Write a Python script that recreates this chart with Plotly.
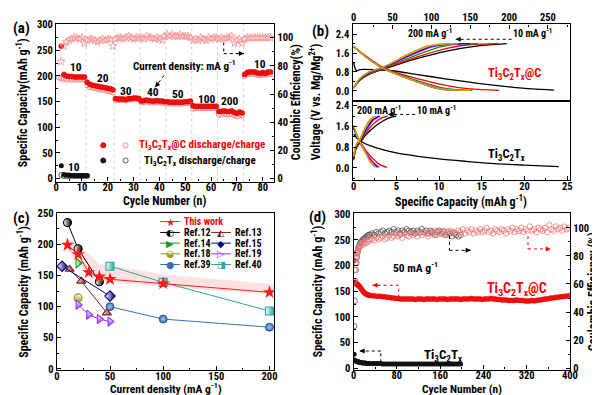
import plotly.graph_objects as go

W, H = 600, 395
FONT = "Roboto Condensed, Liberation Sans, Arial, sans-serif"


def fx(p):
    return p / W


def fy(p):
    return 1 - p / H


# ---------------------------------------------------------------- panel (a)
A_CYC_DIS = list(range(2, 84))
A_DIS = [258,
         203, 200, 199, 199, 198, 198, 198, 198, 198,
         188, 184, 182, 181, 180, 179, 178, 177, 176, 175, 173,
         156, 155, 155, 155, 154, 156, 156, 157, 157, 156,
         151, 152, 153, 152, 151, 151, 152, 151, 151, 150,
         150, 149, 149, 149, 149, 149, 149, 150, 150, 151,
         142, 141, 141, 141, 141, 141, 141, 141, 141, 141,
         131, 131, 132, 131, 131, 132, 129, 127, 130, 128,
         203, 207, 208, 208, 208, 206, 205, 207, 205, 208, 208]
A_CYC_CHG = list(range(1, 84))
A_CHG = [197, 195,
         194, 193, 193, 193, 193, 193, 193, 193, 193,
         182, 178, 177, 176, 175, 174, 173, 172, 171, 170, 168,
         153, 153, 153, 153, 152, 154, 154, 155, 155, 154,
         148, 149, 150, 149, 148, 148, 149, 148, 148, 147,
         146, 146, 146, 146, 146, 146, 146, 147, 147, 148,
         136, 137, 137, 137, 137, 137, 137, 137, 137, 138,
         124, 124, 126, 125, 125, 126, 123, 121, 125, 123,
         200, 203, 204, 204, 204, 202, 201, 203, 202, 204, 204]
A_CYC_CE = list(range(2, 84))
A_CE = [83,
        94, 97, 98, 99, 100, 100, 99, 100, 96,
        98, 99, 99, 98, 97, 98, 99, 98, 99, 99, 94,
        99, 100, 100, 99, 100, 101, 100, 99, 100, 100,
        100, 99, 101, 100, 100, 99, 100, 99, 98, 101,
        102, 101, 102, 101, 101, 102, 101, 101, 101, 100,
        98, 99, 98, 100, 99, 98, 100, 99, 100, 100,
        99, 100, 99, 100, 100, 101, 96, 98, 99, 96,
        99, 100, 100, 100, 100, 100, 100, 100, 100, 100, 100]
A_BLK_CYC = list(range(2, 13))
A_BLK_DIS = [25, 8, 7, 7, 6, 6, 6, 6, 6, 6, 6]
A_BLK_CHG = [7, 5, 5, 5, 5, 5, 5, 5, 5, 5, 5]
A_BOUNDS = [11.5, 22.5, 32.5, 42.5, 52.5, 62.5, 72.5]
A_RATES = ["10", "20", "30", "40", "50", "100", "200", "10"]

# ---------------------------------------------------------------- panel (b)
B_RATES = ["10", "20", "30", "40", "50", "100", "200"]
B_TOP_CHG = {
    "10": ([0, 8, 20, 40, 80, 120, 160, 197], [0.12, 0.45, 0.70, 0.93, 1.35, 1.68, 1.90, 2.0]),
    "20": ([0, 8, 20, 40, 80, 120, 150, 186], [0.12, 0.47, 0.72, 0.96, 1.42, 1.80, 1.96, 2.0]),
    "30": ([0, 8, 20, 40, 80, 110, 130, 160], [0.12, 0.48, 0.74, 0.98, 1.50, 1.85, 1.97, 2.0]),
    "40": ([0, 8, 20, 40, 75, 100, 120, 142], [0.12, 0.50, 0.76, 1.00, 1.52, 1.85, 1.97, 2.0]),
    "50": ([0, 8, 20, 40, 75, 100, 120, 150], [0.12, 0.50, 0.77, 1.01, 1.55, 1.88, 1.98, 2.0]),
    "100": ([0, 8, 20, 40, 70, 95, 115, 135], [0.12, 0.52, 0.80, 1.03, 1.52, 1.87, 1.98, 2.0]),
    "200": ([0, 8, 20, 40, 70, 95, 112, 130], [0.12, 0.52, 0.80, 1.04, 1.55, 1.90, 1.98, 2.0]),
}
B_TOP_DIS = {
    "10": ([0, 2, 4, 8, 30, 50, 80, 120, 160, 200, 230, 258],
           [1.2, 0.95, 0.85, 0.90, 0.89, 0.85, 0.70, 0.50, 0.32, 0.17, 0.08, 0.03]),
    "20": ([0, 15, 35, 60, 90, 120, 150, 187], [1.88, 1.50, 1.05, 0.72, 0.45, 0.22, 0.08, 0.02]),
    "30": ([0, 15, 35, 60, 90, 115, 135, 153], [1.88, 1.48, 1.02, 0.68, 0.35, 0.12, 0.04, 0.02]),
    "40": ([0, 15, 35, 60, 90, 110, 130, 150], [1.88, 1.47, 1.00, 0.66, 0.32, 0.12, 0.04, 0.02]),
    "50": ([0, 15, 35, 60, 90, 110, 125, 142], [1.87, 1.45, 1.00, 0.64, 0.28, 0.08, 0.03, 0.02]),
    "100": ([0, 15, 35, 60, 90, 110, 130, 150], [1.90, 1.47, 1.00, 0.65, 0.30, 0.10, 0.03, 0.02]),
    "200": ([0, 15, 35, 60, 90, 110, 128, 145], [1.90, 1.46, 0.99, 0.63, 0.28, 0.08, 0.03, 0.02]),
}
B_BOT_CHG = {
    "10": ([0, 0.3, 0.8, 1.5, 2.5, 3.5, 4.3, 5.0], [0.30, 0.75, 1.00, 1.30, 1.60, 1.82, 1.95, 2.0]),
    "20": ([0, 0.3, 0.8, 1.5, 2.5, 3.3, 4.0], [0.30, 0.80, 1.05, 1.38, 1.75, 1.93, 2.0]),
    "30": ([0, 0.3, 0.8, 1.5, 2.2, 2.9], [0.35, 0.82, 1.08, 1.45, 1.80, 2.0]),
    "40": ([0, 0.3, 0.8, 1.5, 2.3, 3.1], [0.35, 0.85, 1.10, 1.50, 1.85, 2.0]),
    "50": ([0, 0.3, 0.8, 1.5, 2.2, 3.0], [0.40, 0.85, 1.10, 1.50, 1.85, 2.0]),
    "100": ([0, 0.3, 0.8, 1.4, 2.0, 2.6], [0.40, 0.88, 1.12, 1.55, 1.85, 2.0]),
    "200": ([0, 0.3, 0.8, 1.4, 2.0, 2.5], [0.45, 0.90, 1.15, 1.60, 1.90, 2.0]),
}
B_BOT_DIS = {
    "10": ([0, 0.5, 1, 2, 3.5, 5, 7.5, 10, 13, 16, 20, 24],
           [1.30, 1.12, 1.00, 0.85, 0.70, 0.58, 0.45, 0.35, 0.26, 0.18, 0.11, 0.05]),
    "20": ([0, 0.4, 0.8, 1.5, 2.3, 3.0, 3.9], [1.60, 1.25, 1.00, 0.65, 0.35, 0.15, 0.02]),
    "30": ([0, 0.4, 0.8, 1.5, 2.2, 2.9], [1.60, 1.20, 0.95, 0.55, 0.22, 0.03]),
    "40": ([0, 0.4, 0.8, 1.5, 2.3, 3.0], [1.60, 1.22, 0.95, 0.58, 0.22, 0.03]),
    "50": ([0, 0.4, 0.8, 1.5, 2.2, 2.8], [1.55, 1.20, 0.95, 0.55, 0.20, 0.03]),
    "100": ([0, 0.4, 0.8, 1.4, 2.0, 2.6], [1.65, 1.25, 0.97, 0.60, 0.25, 0.03]),
    "200": ([0, 0.4, 0.8, 1.4, 1.9, 2.5], [1.65, 1.25, 0.96, 0.58, 0.25, 0.03]),
}
B_COLORS = {"10": "#000000", "20": "#FF0000", "30": "#00A000", "40": "#FF00FF",
            "50": "#0000FF", "100": "#FF8C00", "200": "#C8A000"}

# ---------------------------------------------------------------- panel (c)
C_THIS_X = [10, 20, 30, 40, 50, 100, 200]
C_THIS_Y = [199, 184, 155, 148, 144, 137, 123]
C_BAND_X = [8, 20, 30, 40, 50, 100, 205]
C_BAND_HI = [212, 200, 185, 168, 166, 152, 136]
C_BAND_LO = [193, 172, 150, 141, 140, 132, 119]
C_REF_NAMES = ["Ref.12", "Ref.13", "Ref.14", "Ref.15", "Ref.18", "Ref.19", "Ref.39", "Ref.40"]
C_REF_X = {"Ref.12": [10, 20, 40], "Ref.13": [12, 23, 47], "Ref.14": [20],
           "Ref.15": [5, 50], "Ref.18": [20], "Ref.19": [20, 30, 40, 50],
           "Ref.39": [50, 100, 200], "Ref.40": [50, 100, 200]}
C_REF_Y = {"Ref.12": [235, 193, 140], "Ref.13": [160, 141, 90], "Ref.14": [170],
           "Ref.15": [165, 117], "Ref.18": [114], "Ref.19": [103, 87, 80, 76],
           "Ref.39": [100, 80, 67], "Ref.40": [165, 139, 93]}
C_STYLE = {"Ref.12": ("#000000", "circle", "horizontal", "◐"),
           "Ref.13": ("#8B1A1A", "triangle-up", "horizontal", "◭"),
           "Ref.14": ("#139A13", "triangle-right", "horizontal", "▶"),
           "Ref.15": ("#000080", "diamond", "horizontal", "◆"),
           "Ref.18": ("#9A9A10", "circle", "vertical", "◒"),
           "Ref.19": ("#9B30FF", "triangle-right", "vertical", "▷"),
           "Ref.39": ("#3A6FB5", "circle", "radial", "●"),
           "Ref.40": ("#2AA6A0", "square", "horizontal", "◨")}

# ---------------------------------------------------------------- panel (d)
D_RED_CYC = [1, 2, 3, 4, 5, 6, 7, 8, 9, 10, 12, 14, 16, 18, 20, 22, 24, 26, 28, 30] + list(range(34, 401, 4))
D_RED_CAP = [210, 167, 166, 165, 165, 164, 163, 162, 161, 160, 158, 155, 152, 149, 147, 145, 144, 143, 142, 142,
             141, 141, 140, 140, 140, 139, 139, 138, 138, 137, 137, 136, 136, 135, 135, 135, 135, 135,
             135, 135, 134, 135, 135, 135, 134, 135, 135, 135,
             135, 135, 134, 135, 135, 135, 135, 134, 135, 135,
             135, 135, 135, 134, 135, 135, 135, 135, 136, 135,
             135, 135, 135, 134, 135, 135, 135, 136, 135, 135,
             134, 134, 133, 133, 133, 132, 132, 132, 132, 133,
             132, 132, 132, 131, 131, 131, 132, 131, 132, 133,
             133, 134, 135, 135, 136, 137, 137, 138, 138, 139,
             139, 140, 140, 141]
D_RED_CE = [62, 70, 75, 78, 80, 82, 83, 84, 85, 86, 87, 88, 89, 88, 90, 89, 91, 90, 92, 91,
            92, 91, 93, 92, 93, 94, 92, 93, 95, 93, 94, 96, 94, 95, 93, 96, 95, 94,
            96, 95, 97, 94, 96, 95, 97, 96, 94, 97,
            96, 98, 95, 97, 96, 98, 96, 95, 98, 97,
            97, 96, 98, 97, 99, 96, 98, 97, 99, 96,
            98, 97, 99, 97, 98, 100, 97, 98, 96, 99,
            98, 97, 99, 98, 96, 99, 98, 100, 97, 99,
            98, 100, 97, 99, 98, 101, 98, 99, 97, 100,
            99, 98, 100, 97, 102, 99, 98, 101, 99, 100,
            98, 101, 99, 100]
D_BLK_CYC = [1, 2, 3, 4, 5, 6, 7, 8, 9, 10, 12, 14, 16, 18, 20, 22, 24, 26, 28, 30] + list(range(34, 201, 4))
D_BLK_CAP = [27, 16, 15, 14, 14, 13, 13, 12, 12, 12, 11, 11, 10, 10, 10, 10, 9, 9, 9, 9,
             9, 9, 9, 9, 9, 8, 8, 8, 8, 8, 8, 8, 8, 8, 8, 8, 8, 8, 8, 8,
             8, 8, 8, 8, 8, 8, 8, 8, 8, 8, 8, 8, 8, 8, 8, 8, 8, 8, 8, 8, 8, 8]
D_BLK_CE = [30, 48, 62, 70, 75, 79, 82, 84, 86, 87, 89, 90, 91, 92, 92, 93, 94, 94, 95, 95,
            96, 95, 97, 96, 97, 98, 96, 97, 98, 97, 99, 97, 98, 96, 98, 97, 99, 98, 97, 98,
            96, 98, 97, 99, 97, 98, 96, 98, 97, 95, 97, 98, 96, 97, 95, 97, 96, 94, 96, 95,
            94, 95]

# ================================================================= figure
fig = go.Figure()
BLK = "#000000"
TICK = 10.5


def axstyle(**kw):
    d = dict(showline=True, linecolor=BLK, linewidth=1.4, ticks="inside", ticklen=4,
             tickwidth=1.2, tickcolor=BLK, showgrid=False, zeroline=False,
             tickfont=dict(family=FONT, size=TICK, color=BLK, weight="bold"),
             minor=dict(ticks="inside", ticklen=2, tickwidth=1, tickcolor=BLK, showgrid=False))
    minor_dtick = kw.pop("minor_dtick", None)
    if minor_dtick is not None:
        d["minor"]["dtick"] = minor_dtick
    d.update(kw)
    return d


# ---------- (a) traces
fig.add_trace(go.Scatter(x=A_CYC_CE, y=A_CE, xaxis="x", yaxis="y2", mode="markers",
                         marker=dict(symbol="star-open", size=6, color="#F49A9A", line=dict(width=0.9)),
                         showlegend=False))
fig.add_trace(go.Scatter(x=A_CYC_CHG, y=A_CHG, xaxis="x", yaxis="y", mode="markers",
                         marker=dict(symbol="circle-open", size=5, color="#F28080", line=dict(width=0.9)),
                         showlegend=False))
fig.add_trace(go.Scatter(x=A_CYC_DIS, y=A_DIS, xaxis="x", yaxis="y", mode="markers",
                         marker=dict(symbol="circle", size=5, color="#FF1010", line=dict(width=0.6, color="#C00000")),
                         showlegend=False))
fig.add_trace(go.Scatter(x=A_BLK_CYC, y=A_BLK_CHG, xaxis="x", yaxis="y", mode="markers",
                         marker=dict(symbol="circle-open", size=5, color="#444444", line=dict(width=0.9)),
                         showlegend=False))
fig.add_trace(go.Scatter(x=A_BLK_CYC, y=A_BLK_DIS, xaxis="x", yaxis="y", mode="markers",
                         marker=dict(symbol="circle", size=5, color="#111111"),
                         showlegend=False))

# ---------- (b) traces
for r in B_RATES:
    for dct, xa, ya in ((B_TOP_CHG, "x2", "y3"), (B_TOP_DIS, "x2", "y3"),
                        (B_BOT_CHG, "x3", "y4"), (B_BOT_DIS, "x3", "y4")):
        xs, ys = dct[r]
        fig.add_trace(go.Scatter(x=xs, y=ys, xaxis=xa, yaxis=ya, mode="lines",
                                 line=dict(color=B_COLORS[r], width=1.3, shape="spline", smoothing=0.8),
                                 showlegend=False))

# ---------- (c) traces
fig.add_trace(go.Scatter(x=C_BAND_X + C_BAND_X[::-1], y=C_BAND_HI + C_BAND_LO[::-1],
                         xaxis="x4", yaxis="y5", mode="lines", fill="toself",
                         fillcolor="rgba(255,120,120,0.22)", line=dict(width=0),
                         hoverinfo="skip", showlegend=False))
for name in C_REF_NAMES:
    col, sym, grad, _ = C_STYLE[name]
    if grad == "radial":
        mk = dict(symbol=sym, size=8, color=col, line=dict(color="#1F4A80", width=0.8),
                  gradient=dict(type="radial", color="#A8C4EA"))
    else:
        mk = dict(symbol=sym, size=8, color="white", line=dict(color=col, width=1.1),
                  gradient=dict(type=grad, color=col))
    fig.add_trace(go.Scatter(x=C_REF_X[name], y=C_REF_Y[name], xaxis="x4", yaxis="y5",
                             mode="lines+markers", line=dict(color=col, width=1),
                             marker=mk, showlegend=False))
fig.add_trace(go.Scatter(x=C_THIS_X, y=C_THIS_Y, xaxis="x4", yaxis="y5", mode="lines+markers",
                         line=dict(color="#FF2020", width=1),
                         marker=dict(symbol="star", size=10, color="#FF1A1A", line=dict(width=0)),
                         showlegend=False))

# ---------- (d) traces
fig.add_trace(go.Scatter(x=D_BLK_CYC, y=D_BLK_CE, xaxis="x5", yaxis="y7", mode="markers",
                         marker=dict(symbol="circle-open", size=5.5, color="#555555", line=dict(width=0.8)),
                         showlegend=False))
fig.add_trace(go.Scatter(x=D_RED_CYC, y=D_RED_CE, xaxis="x5", yaxis="y7", mode="markers",
                         marker=dict(symbol="circle-open", size=5.5, color="#F07878", line=dict(width=0.8)),
                         showlegend=False))
fig.add_trace(go.Scatter(x=D_RED_CYC, y=D_RED_CAP, xaxis="x5", yaxis="y6", mode="markers",
                         marker=dict(symbol="circle", size=5, color="#FF1010", line=dict(width=0.4, color="#D00000")),
                         showlegend=False))
fig.add_trace(go.Scatter(x=D_BLK_CYC, y=D_BLK_CAP, xaxis="x5", yaxis="y6", mode="markers",
                         marker=dict(symbol="circle", size=5, color="#111111"),
                         showlegend=False))

# ---------- axes
XS = -4  # pull x tick labels toward the axis line
fig.update_layout(
    xaxis=axstyle(domain=[fx(46), fx(268)], range=[0, 84.4], anchor="y", dtick=10, minor_dtick=5,
                  mirror=True, ticklabelstandoff=XS),
    yaxis=axstyle(domain=[fy(172.3), fy(10)], range=[-5.7, 301.9], anchor="x", dtick=50, minor_dtick=25),
    yaxis2=axstyle(overlaying="y", side="right", anchor="x", range=[-2.07, 109.9], dtick=20, minor_dtick=10),
    xaxis2=axstyle(domain=[fx(348), fx(569)], range=[-1.26, 277.8], anchor="y3", side="top",
                   dtick=50, minor_dtick=25, mirror=True, ticklabelstandoff=-2),
    yaxis3=axstyle(domain=[fy(90), fy(10.7)], range=[-0.45, 2.81], anchor="x2", dtick=0.8,
                   tickformat=".1f", minor_dtick=0.4, mirror=True),
    xaxis3=axstyle(domain=[fx(348), fx(569)], range=[-0.11, 25.26], anchor="y4", dtick=5,
                   minor_dtick=2.5, mirror=True, ticklabelstandoff=XS),
    yaxis4=axstyle(domain=[fy(170.7), fy(90)], range=[-0.46, 2.56], anchor="x3", dtick=0.8,
                   tickformat=".1f", minor_dtick=0.4, mirror=True),
    xaxis4=axstyle(domain=[fx(46.7), fx(268.3)], range=[0, 204.6], anchor="y5", dtick=50,
                   minor_dtick=25, mirror=True, ticklabelstandoff=XS),
    yaxis5=axstyle(domain=[fy(366.7), fy(205)], range=[-2.6, 250], anchor="x4", dtick=50,
                   minor_dtick=25, mirror=True),
    xaxis5=axstyle(domain=[fx(349), fx(569.3)], range=[0, 400], anchor="y6", dtick=80,
                   minor_dtick=40, mirror=True, ticklabelstandoff=XS),
    yaxis6=axstyle(domain=[fy(365.7), fy(205)], range=[-2.65, 301.9], anchor="x5", dtick=50, minor_dtick=25),
    yaxis7=axstyle(overlaying="y6", side="right", anchor="x5", range=[-0.97, 110.4], dtick=20, minor_dtick=10),
)

ann = []
shapes = []


def text(x, y, t, size=11, color=BLK, xref="paper", yref="paper", xanchor="center", angle=0):
    ann.append(dict(x=x, y=y, xref=xref, yref=yref, text=t, showarrow=False, xanchor=xanchor,
                    yanchor="middle", textangle=angle, borderpad=0,
                    font=dict(family=FONT, size=size, color=color, weight="bold")))


def dotted_arrow(pts, xref, yref, color, hx, hy):
    for (x0, y0), (x1, y1) in zip(pts[:-1], pts[1:]):
        shapes.append(dict(type="line", x0=x0, y0=y0, x1=x1, y1=y1, xref=xref, yref=yref,
                           line=dict(color=color, width=1, dash="dot")))
    xe, ye = pts[-1]
    ann.append(dict(x=xe, y=ye, xref=xref, yref=yref, ax=hx, ay=hy, text="", showarrow=True,
                    arrowhead=2, arrowsize=1, arrowwidth=1, arrowcolor=color))


TITLE = 12
# panel letters
text(fx(11), fy(14), "(a)", 15)
text(fx(315), fy(18), "(b)", 15)
text(fx(11), fy(210), "(c)", 15)
text(fx(312), fy(209), "(d)", 15)

TI_C = "Ti<sub>3</sub>C<sub>2</sub>T<sub>x</sub>@C"
TI = "Ti<sub>3</sub>C<sub>2</sub>T<sub>x</sub>"
GM = "g<sup>-1</sup>"

# ---------- (a) decorations
for b in A_BOUNDS:
    shapes.append(dict(type="line", x0=b, x1=b, y0=0, y1=1, xref="x", yref="y domain",
                       line=dict(color="#C8C8C8", width=0.8, dash="dot"), layer="below"))
rate_pos = [(7.5, 218), (18, 196), (26.9, 171), (37.6, 168), (47.1, 165), (58.6, 155), (67.4, 151.6), (78.8, 224)]
for lab, (x, y) in zip(A_RATES, rate_pos):
    text(x, y, lab, 11.5, xref="x", yref="y")
text(6.8, 22, "10", 11.5, xref="x", yref="y")
text(49.7, 220, "Current density: mA " + GM, 11, xref="x", yref="y")
dotted_arrow([(41.8, 201), (38.3, 178)], "x", "y", BLK, 5, -6)
dotted_arrow([(64.9, 96.6), (64.9, 88.7), (72.7, 88.7)], "x", "y2", BLK, -7, 0)
# manual legend (a)
for cx, cy, fill, edge in ((94, 135, "#FF1010", "#C00000"), (116.7, 135, "white", "#F28080"),
                           (94, 150.7, "#111111", "#111111"), (116.7, 150.7, "white", "#444444")):
    r = 2.6
    shapes.append(dict(type="circle", xref="paper", yref="paper", x0=fx(cx - r), x1=fx(cx + r),
                       y0=fy(cy + r), y1=fy(cy - r), fillcolor=fill, line=dict(color=edge, width=0.9)))
text(fx(129), fy(135), TI_C + " discharge/charge", 11, "#FF0000", xanchor="left")
text(fx(134), fy(150.7), TI + " discharge/charge", 11, BLK, xanchor="left")
# axis titles (a)
text(fx(12), fy(91), "Specific Capacity(mAh " + GM + ")", TITLE, angle=-90)
text(fx(291), fy(91), "Coulombic Efficiency(%)", TITLE, angle=-90)
text(fx(157), fy(192), "Cycle Number (n)", TITLE)

# ---------- (b) decorations
text(fx(426.7), fy(19.5), "200 mA " + GM, 10)
text(fx(531.7), fy(19.5), "10 mA " + GM, 10)
dotted_arrow([(fx(510), fy(26)), (fx(453), fy(26))], "paper", "paper", BLK, 6, 0)
text(fx(375), fy(99), "200 mA " + GM, 10)
text(fx(433.3), fy(99), "10 mA " + GM, 10)
dotted_arrow([(fx(411.7), fy(103.3)), (fx(384), fy(103.3))], "paper", "paper", BLK, 6, 0)
text(fx(513.3), fy(61.7), TI_C, 12.5, "#FF0000")
text(fx(505), fy(145), TI, 12.5)
text(fx(310), fy(90.5), "Voltage (V vs. Mg/Mg<sup>2+</sup>)", TITLE, angle=-90)
text(fx(458.5), fy(192), "Specific Capacity (mAh " + GM + ")", TITLE)


# ---------- (c) decorations: manual legend
def leg_row(x_line, y, name, col, glyph, gsize=9.5, tcol=BLK):
    shapes.append(dict(type="line", xref="paper", yref="paper", x0=fx(x_line), x1=fx(x_line + 20),
                       y0=fy(y), y1=fy(y), line=dict(color=col, width=1)))
    ann.append(dict(x=fx(x_line + 10), y=fy(y), xref="paper", yref="paper", text=glyph,
                    showarrow=False, xanchor="center", yanchor="middle", borderpad=0,
                    font=dict(family="DejaVu Sans", size=gsize, color=col)))
    text(fx(x_line + 23), fy(y), name, 10, tcol, xanchor="left")


leg_row(152, 213.5, "This work", "#FF2020", "★", 10.5, "#FF0000")
rows = [224.7, 235.7, 246.7, 257.7]
for i, name in enumerate(["Ref.12", "Ref.14", "Ref.18", "Ref.39"]):
    leg_row(152, rows[i], name, C_STYLE[name][0], C_STYLE[name][3])
for i, name in enumerate(["Ref.13", "Ref.15", "Ref.19", "Ref.40"]):
    leg_row(204, rows[i], name, C_STYLE[name][0], C_STYLE[name][3])
text(fx(12), fy(286), "Specific Capacity (mAh " + GM + ")", TITLE, angle=-90)
text(fx(157.5), fy(385), "Current density (mA " + GM + ")", 11.5)

# ---------- (d) decorations
text(fx(411.7), fy(260.7), "50 mA " + GM, 11.5)
text(fx(515), fy(283.3), TI_C, 14, "#FF0000")
text(fx(440), fy(351), TI, 13)
dotted_arrow([(83.5, 137.6), (83.5, 161.6), (35, 161.6)], "x5", "y6", "#FF0000", 7, 0)
dotted_arrow([(322.6, 94.2), (322.6, 85), (364.8, 85)], "x5", "y7", "#FF0000", -7, 0)
dotted_arrow([(177.4, 94.2), (177.4, 84), (216.7, 84)], "x5", "y7", BLK, -7, 0)
dotted_arrow([(50.3, 11.4), (50.3, 33.4), (11, 33.4)], "x5", "y6", BLK, 7, 0)
text(fx(311.7), fy(285.3), "Specific Capacity (mAh " + GM + ")", TITLE, angle=-90)
text(fx(593.5), fy(285.3), "Coulombic Efficiency (%)", TITLE, angle=-90)
text(fx(459), fy(385.5), "Cycle Number (n)", 11.5)

fig.update_layout(width=W, height=H, margin=dict(l=0, r=0, t=0, b=0),
                  paper_bgcolor="white", plot_bgcolor="white",
                  font=dict(family=FONT, size=11, color=BLK, weight="bold"),
                  annotations=ann, shapes=shapes, showlegend=False)

fig.write_html("out.html")
